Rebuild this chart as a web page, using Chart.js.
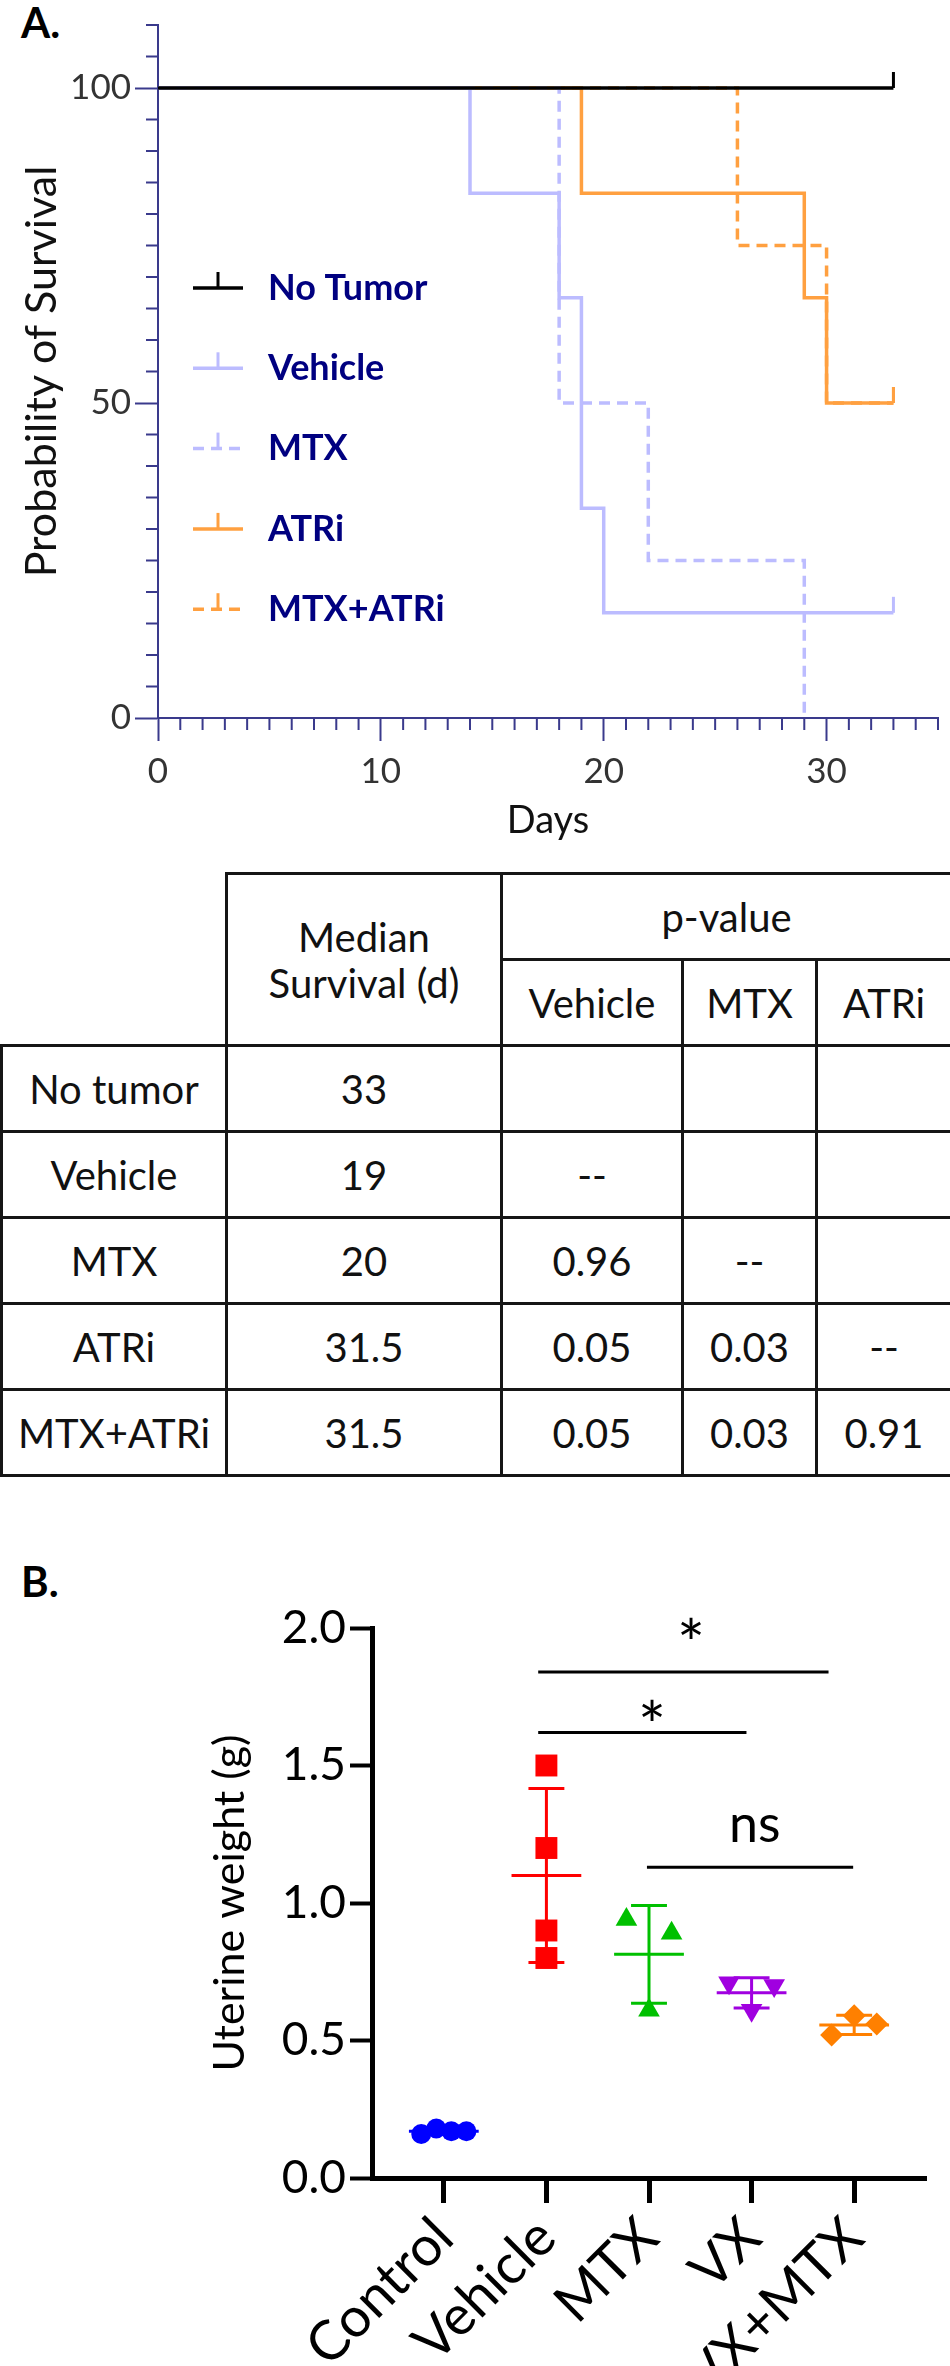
<!DOCTYPE html>
<html>
<head>
<meta charset="utf-8">
<script src="https://cdn.jsdelivr.net/npm/chart.js@4.4.1/dist/chart.umd.min.js"></script>
<style>
  body { margin: 0; background: #fff; width: 950px; height: 2366px; position: relative; overflow: hidden; font-family: Lato, sans-serif; }
  canvas { position: absolute; left: 0; }
  #survival { top: 0; }
  #weights { top: 1550px; }
  .panel { position: absolute; left: 21px; font-weight: bold; font-size: 42px; line-height: 44px; color: #000; }
  #tbl { position: absolute; left: 0; top: 872px; border-collapse: collapse; table-layout: fixed; width: 950px; font-size: 40px; color: #111; }
  #tbl td { border: 3px solid #161616; text-align: center; padding: 0; height: 83px; line-height: 1.15; }
  #tbl td.blank { border-top: none; border-left: none; }
</style>
</head>
<body>
<div class="panel" style="top:0">A.</div>
<canvas id="survival" width="950" height="850"></canvas>
<table id="tbl">
  <colgroup><col style="width:225px"><col style="width:275px"><col style="width:181px"><col style="width:134px"><col style="width:135px"></colgroup>
  <tbody id="tblBody"></tbody>
</table>
<div class="panel" style="top:1559px">B.</div>
<canvas id="weights" width="950" height="816"></canvas>
<script>
// ---- A. survival curves ----
const survivalGroups = ['No Tumor', 'Vehicle', 'MTX', 'ATRi', 'MTX+ATRi'];
const noTumorDays = [0, 33];
const noTumorSurvival = [100, 100];
const vehicleDays = [0, 14, 18, 19, 20, 33];
const vehicleSurvival = [100, 83.3, 66.7, 33.3, 16.7, 16.7];
const mtxDays = [0, 18, 22, 29];
const mtxSurvival = [100, 50, 25, 0];
const atriDays = [0, 19, 29, 30, 33];
const atriSurvival = [100, 83.3, 66.7, 50, 50];
const mtxAtriDays = [0, 26, 30, 33];
const mtxAtriSurvival = [100, 75, 50, 50];
const dayTicks = [0, 10, 20, 30];
const survivalTicks = [0, 50, 100];

// ---- table ----
const tableGroups = ['No tumor', 'Vehicle', 'MTX', 'ATRi', 'MTX+ATRi'];
const medianSurvival = ['33', '19', '20', '31.5', '31.5'];
const pVsVehicle = ['', '--', '0.96', '0.05', '0.05'];
const pVsMtx = ['', '', '--', '0.03', '0.03'];
const pVsAtri = ['', '', '', '--', '0.91'];

// ---- B. uterine weight ----
const weightGroups = ['Control', 'Vehicle', 'MTX', 'VX', 'VX+MTX'];
const controlWeight = [0.16, 0.18, 0.17, 0.17];
const vehicleWeight = [1.5, 1.2, 0.9, 0.8];
const mtxWeight = [0.94, 0.89, 0.61];
const vxWeight = [0.71, 0.70, 0.61];
const vxMtxWeight = [0.52, 0.59, 0.56];
const weightTicks = [0, 0.5, 1, 1.5, 2];
// significance bars (x in group units, y in grams) and their labels
const sigFrom = [1.92, 1.92, 2.98];
const sigTo = [4.75, 3.95, 4.99];
const sigLevel = [1.84, 1.62, 1.13];
const sigText = ['*', '*', 'ns'];
const sigTextX = [3.41, 3.03, 4.03];
const sigTextY = [1.99, 1.69, 1.27];

Chart.defaults.font.family = 'Lato';
const navy = '#3a3a8c';
const lavender = '#bcbcff';
const orange = '#ffa040';

// censor mark: short vertical stroke going up from the point
function censorMark(color) {
  const c = document.createElement('canvas');
  c.width = 5; c.height = 34;
  const g = c.getContext('2d');
  g.strokeStyle = color; g.lineWidth = 3;
  g.beginPath(); g.moveTo(2.5, 1); g.lineTo(2.5, 17); g.stroke();
  return c;
}

function kmSet(label, days, surv, color, dashed) {
  const last = days.length - 1;
  const censored = surv[last] > 0;
  return {
    label: label,
    data: days.map((d, i) => ({ x: d, y: surv[i] })),
    borderColor: color,
    borderWidth: 3.5,
    borderDash: dashed ? [11, 7] : [],
    stepped: 'before',
    fill: false,
    pointStyle: censorMark(color),
    pointRadius: c => (c.dataIndex === last && censored ? 5 : 0),
    pointHoverRadius: 0
  };
}

const minorTicks = {
  id: 'minorTicks',
  afterDraw(chart) {
    const { ctx, chartArea } = chart;
    const { x, y } = chart.scales;
    ctx.save();
    ctx.strokeStyle = navy; ctx.lineWidth = 2;
    ctx.beginPath();
    for (let d = 1; d <= 35; d++) {
      if (d % 10 === 0) continue;
      const px = x.getPixelForValue(d);
      ctx.moveTo(px, chartArea.bottom); ctx.lineTo(px, chartArea.bottom + 12);
    }
    for (let v = 5; v <= 110; v += 5) {
      if (v % 50 === 0) continue;
      const py = y.getPixelForValue(v);
      ctx.moveTo(chartArea.left - 12, py); ctx.lineTo(chartArea.left, py);
    }
    ctx.stroke();
    ctx.restore();
  }
};

const kmLegend = {
  id: 'kmLegend',
  afterDatasetsDraw(chart) {
    const ctx = chart.ctx;
    chart.data.datasets.forEach((ds, i) => {
      const y = 288 + i * 80.3;
      ctx.save();
      ctx.strokeStyle = ds.borderColor;
      ctx.lineWidth = 3.5;
      ctx.setLineDash(ds.borderDash);
      ctx.beginPath(); ctx.moveTo(193, y); ctx.lineTo(243, y); ctx.stroke();
      ctx.setLineDash([]);
      ctx.lineWidth = 3;
      ctx.beginPath(); ctx.moveTo(218, y); ctx.lineTo(218, y - 16); ctx.stroke();
      ctx.fillStyle = '#000080';
      ctx.font = 'bold 36px Lato';
      ctx.textBaseline = 'middle';
      ctx.fillText(ds.label, 268, y);
      ctx.restore();
    });
  }
};

new Chart(document.getElementById('survival'), {
  type: 'line',
  data: {
    datasets: [
      kmSet(survivalGroups[0], noTumorDays, noTumorSurvival, '#000000', false),
      kmSet(survivalGroups[1], vehicleDays, vehicleSurvival, lavender, false),
      kmSet(survivalGroups[2], mtxDays, mtxSurvival, lavender, true),
      kmSet(survivalGroups[3], atriDays, atriSurvival, orange, false),
      kmSet(survivalGroups[4], mtxAtriDays, mtxAtriSurvival, orange, true)
    ]
  },
  options: {
    responsive: false,
    animation: false,
    devicePixelRatio: 1,
    layout: { padding: { top: 25, right: 12, left: 0, bottom: 0 } },
    plugins: { legend: { display: false }, tooltip: { enabled: false } },
    scales: {
      x: {
        type: 'linear', min: 0, max: 35,
        afterBuildTicks: s => { s.ticks = dayTicks.map(v => ({ value: v })); },
        afterFit: s => { s.height = 132; },
        border: { color: navy, width: 2 },
        grid: { drawOnChartArea: false, tickLength: 23, tickColor: navy, tickWidth: 2 },
        ticks: { color: '#333', font: { size: 35 }, padding: 10, maxRotation: 0 },
        title: { display: true, text: 'Days', color: '#111', font: { size: 38 }, padding: { top: 0, bottom: 6 } }
      },
      y: {
        min: 0, max: 110,
        afterBuildTicks: s => { s.ticks = survivalTicks.map(v => ({ value: v })); },
        afterFit: s => { s.width = 158; },
        border: { color: navy, width: 2 },
        grid: { drawOnChartArea: false, tickLength: 23, tickColor: navy, tickWidth: 2 },
        ticks: { color: '#333', font: { size: 35 }, padding: 4 },
        title: { display: true, text: 'Probability of Survival', color: '#111', font: { size: 43 }, padding: { top: 16, bottom: 0 } }
      }
    }
  },
  plugins: [minorTicks, kmLegend]
});

// ---- table ----
const body = document.getElementById('tblBody');
body.innerHTML =
  '<tr><td class="blank" rowspan="2"></td><td rowspan="2">Median<br>Survival (d)</td><td colspan="3">p-value</td></tr>' +
  '<tr><td>Vehicle</td><td>MTX</td><td>ATRi</td></tr>' +
  tableGroups.map((g, i) =>
    '<tr><td>' + g + '</td><td>' + medianSurvival[i] + '</td><td>' + pVsVehicle[i] +
    '</td><td>' + pVsMtx[i] + '</td><td>' + pVsAtri[i] + '</td></tr>').join('');

// ---- B ----
// points that would overlap are spread across the column, in data order
function spread(values) {
  const root = values.map((_, i) => i);
  const find = i => (root[i] === i ? i : (root[i] = find(root[i])));
  for (let i = 0; i < values.length; i++)
    for (let j = i + 1; j < values.length; j++)
      if (Math.abs(values[i] - values[j]) < 0.08) root[find(j)] = find(i);
  const members = {};
  values.forEach((_, i) => { const r = find(i); (members[r] = members[r] || []).push(i); });
  const off = values.map(() => 0);
  Object.values(members).forEach(m => {
    if (m.length > 1) m.forEach((idx, k) => { off[idx] = -0.22 + 0.44 * k / (m.length - 1); });
  });
  return off;
}

function weightSet(group, values, color, style, radius, rotation) {
  const off = spread(values);
  return {
    type: 'scatter',
    group: group,
    values: values,
    data: values.map((v, i) => ({ x: group + 1 + off[i], y: v })),
    backgroundColor: color,
    borderColor: color,
    borderWidth: 0,
    pointStyle: style,
    pointRadius: radius,
    pointRotation: rotation || 0
  };
}

function sigSet(i) {
  return {
    type: 'line',
    sig: i,
    data: [{ x: sigFrom[i], y: sigLevel[i] }, { x: sigTo[i], y: sigLevel[i] }],
    borderColor: '#000',
    borderWidth: 3,
    pointRadius: 0
  };
}

const meanSd = {
  id: 'meanSd',
  afterDatasetsDraw(chart) {
    const { ctx } = chart;
    const { x, y } = chart.scales;
    chart.data.datasets.forEach(ds => {
      if (ds.sig !== undefined) {
        const t = sigText[ds.sig];
        const star = t === '*';
        ctx.save();
        ctx.fillStyle = '#000';
        ctx.font = star ? '66px Lato' : '52px Lato';
        ctx.textAlign = 'center';
        ctx.textBaseline = 'alphabetic';
        // shift from glyph centre to baseline
        ctx.fillText(t, x.getPixelForValue(sigTextX[ds.sig]), y.getPixelForValue(sigTextY[ds.sig]) + (star ? 37 : 13));
        ctx.restore();
        return;
      }
      if (!ds.values) return;
      const n = ds.values.length;
      const m = ds.values.reduce((a, b) => a + b, 0) / n;
      const sd = Math.sqrt(ds.values.reduce((a, b) => a + (b - m) * (b - m), 0) / (n - 1));
      const cx = ds.group + 1;
      const X = v => x.getPixelForValue(v);
      const Y = v => y.getPixelForValue(v);
      ctx.save();
      ctx.strokeStyle = ds.borderColor;
      ctx.lineWidth = 3;
      ctx.beginPath();
      ctx.moveTo(X(cx - 0.34), Y(m)); ctx.lineTo(X(cx + 0.34), Y(m));
      ctx.moveTo(X(cx), Y(m - sd)); ctx.lineTo(X(cx), Y(m + sd));
      ctx.moveTo(X(cx - 0.175), Y(m - sd)); ctx.lineTo(X(cx + 0.175), Y(m - sd));
      ctx.moveTo(X(cx - 0.175), Y(m + sd)); ctx.lineTo(X(cx + 0.175), Y(m + sd));
      ctx.stroke();
      ctx.restore();
    });
  }
};

new Chart(document.getElementById('weights'), {
  type: 'scatter',
  data: {
    datasets: [
      weightSet(0, controlWeight, '#0000ff', 'circle', 10),
      weightSet(1, vehicleWeight, '#ff0000', 'rect', 15.5),
      weightSet(2, mtxWeight, '#00c000', 'triangle', 12.5),
      weightSet(3, vxWeight, '#a000e0', 'triangle', 12.5, 180),
      weightSet(4, vxMtxWeight, '#ff8000', 'rectRot', 11.5),
      sigSet(0), sigSet(1), sigSet(2)
    ]
  },
  options: {
    responsive: false,
    animation: false,
    devicePixelRatio: 1,
    layout: { padding: { top: 78, right: 24, left: 200, bottom: 0 } },
    plugins: { legend: { display: false }, tooltip: { enabled: false } },
    scales: {
      x: {
        type: 'linear', min: 0.3, max: 5.7,
        afterBuildTicks: s => { s.ticks = weightGroups.map((g, i) => ({ value: i + 1 })); },
        afterFit: s => { s.height = 188; },
        border: { color: '#000', width: 5 },
        grid: { drawOnChartArea: false, tickLength: 25, tickColor: '#000', tickWidth: 5 },
        ticks: { callback: v => weightGroups[v - 1], color: '#000', font: { size: 55 }, minRotation: 45, maxRotation: 45, padding: 2 }
      },
      y: {
        min: 0, max: 2,
        afterBuildTicks: s => { s.ticks = weightTicks.map(v => ({ value: v })); },
        afterFit: s => { s.width = 172; },
        border: { color: '#000', width: 5 },
        grid: { drawOnChartArea: false, tickLength: 22, tickColor: '#000', tickWidth: 4 },
        ticks: { callback: v => v.toFixed(1), color: '#000', font: { size: 46 }, padding: 4 },
        title: { display: true, text: 'Uterine weight (g)', color: '#000', font: { size: 43 }, padding: { top: 4, bottom: 0 } }
      }
    }
  },
  plugins: [meanSd]
});
</script>
</body>
</html>
